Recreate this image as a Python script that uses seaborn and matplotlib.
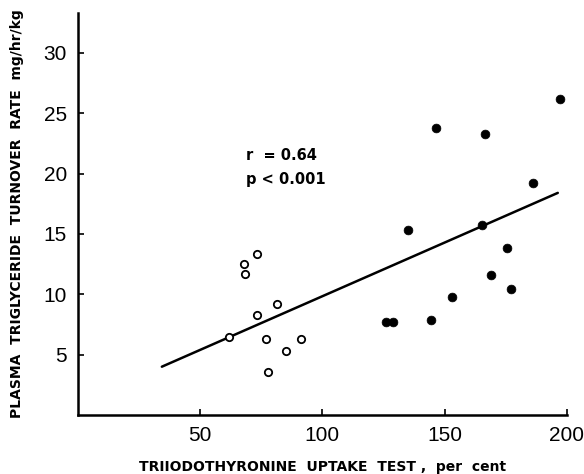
import matplotlib
matplotlib.use('Agg')
import matplotlib.pyplot as plt
import seaborn as sns
import pandas as pd

# open circles (low uptake group)
open_x = [61.9, 67.9, 68.2, 73.2, 73.1, 81.5, 77.1, 84.9, 91.3, 77.8]
open_y = [6.5, 12.5, 11.7, 13.3, 8.3, 9.2, 6.3, 5.3, 6.3, 3.6]

# filled circles (high uptake group)
filled_x = [126.0, 128.7, 134.9, 144.3, 146.6, 152.9, 165.3, 166.5, 169.1, 175.4, 177.1, 186.2, 197.1]
filled_y = [7.7, 7.7, 15.3, 7.9, 23.8, 9.8, 15.7, 23.3, 11.6, 13.8, 10.4, 19.2, 26.2]

# regression line
line_x = [34.3, 196.3]
line_y = [4.0, 18.4]

x_ticks = [50, 100, 150, 200]
y_ticks = [5, 10, 15, 20, 25, 30]

df_open = pd.DataFrame({'x': open_x, 'y': open_y})
df_filled = pd.DataFrame({'x': filled_x, 'y': filled_y})

sns.set_style('ticks')
plt.rcParams['font.family'] = ['Liberation Sans', 'DejaVu Sans']
plt.rcParams['text.color'] = 'black'
plt.rcParams['axes.labelcolor'] = 'black'
plt.rcParams['xtick.color'] = 'black'
plt.rcParams['ytick.color'] = 'black'

fig = plt.figure(figsize=(5.84, 4.74), dpi=100)
ax = fig.add_axes([0.1336, 0.1245, 0.837, 0.848])

sns.lineplot(x=line_x, y=line_y, ax=ax, color='black', linewidth=1.8)
sns.scatterplot(data=df_open, x='x', y='y', ax=ax, marker='o', s=28,
                facecolor='white', edgecolor='black', linewidth=1.3, zorder=3)
sns.scatterplot(data=df_filled, x='x', y='y', ax=ax, marker='o', s=40,
                color='black', edgecolor='black', linewidth=0.5, zorder=3)

ax.set_xlim(0, 200)
ax.set_ylim(0, 33.3)
ax.set_xticks(x_ticks)
ax.set_yticks(y_ticks)
ax.tick_params(direction='in', length=4, width=1.2, labelsize=15, pad=8,
               colors='black')

sns.despine(ax=ax)
for sp in ['left', 'bottom']:
    ax.spines[sp].set_linewidth(1.8)
    ax.spines[sp].set_color('black')

ax.text(68.7, 21.5, 'r  = 0.64', fontsize=10.5, fontweight='bold', va='center',
        family='DejaVu Sans', color='black')
ax.text(68.7, 19.5, 'p < 0.001', fontsize=10.5, fontweight='bold', va='center',
        family='DejaVu Sans', color='black')

ax.set_xlabel('TRIIODOTHYRONINE  UPTAKE  TEST ,  per  cent', fontsize=10,
              fontweight='bold', labelpad=11, family='DejaVu Sans', color='black')
ax.set_ylabel('PLASMA  TRIGLYCERIDE  TURNOVER  RATE  mg/hr/kg', fontsize=10,
              fontweight='bold', labelpad=14, family='DejaVu Sans', color='black')

fig.savefig('out.png', dpi=100)
